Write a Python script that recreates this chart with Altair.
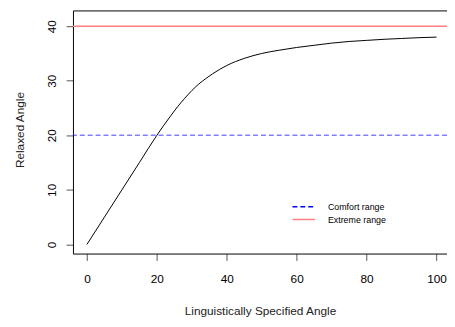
import altair as alt
import pandas as pd

# Curve values
x_vals = [0, 5, 10, 15, 20, 22, 24, 26, 28, 30, 32, 34, 36, 38, 40, 45, 50, 55,
          60, 65, 70, 75, 80, 85, 90, 95, 100]
y_vals = [0, 5, 10, 15, 20, 21.85, 23.6, 25.3, 26.8, 28.2, 29.4, 30.4, 31.3, 32.1,
          32.8, 34.1, 35.0, 35.6, 36.1, 36.5, 36.9, 37.2, 37.4, 37.6, 37.75, 37.9, 38.0]

ref_names = ["Comfort range", "Extreme range"]
ref_values = [20, 40]
ref_colors = ["#0000FF", "#FF8080"]
ref_dashes = [[5, 3], [1, 0]]

x_ticks = [0, 20, 40, 60, 80, 100]
y_ticks = [0, 10, 20, 30, 40]

curve = pd.DataFrame({"x": x_vals, "y": y_vals})
refs = pd.DataFrame({"name": ref_names, "value": ref_values})

FONT = "Liberation Sans"

xscale = alt.Scale(domain=[-4, 103.0], nice=False, zero=False)
yscale = alt.Scale(domain=[-1.68, 42.89], nice=False, zero=False)

line = alt.Chart(curve).mark_line(color="black", strokeWidth=1, clip=True,
                                  interpolate="monotone").encode(
    x=alt.X("x:Q", scale=xscale,
            axis=alt.Axis(title="Linguistically Specified Angle", values=x_ticks,
                          grid=False, tickSize=7, labelPadding=13, labelFontSize=12,
                          titleFontSize=12, titleFontWeight="normal",
                          titleY=58, titleBaseline="middle",
                          domainColor="black", tickColor="#555555",
                          labelColor="black", titleColor="#222222",
                          labelFont=FONT, titleFont=FONT)),
    y=alt.Y("y:Q", scale=yscale,
            axis=alt.Axis(title="Relaxed Angle", values=y_ticks, grid=False,
                          tickSize=7, labelAngle=270, labelAlign="center",
                          labelBaseline="middle", labelPadding=15,
                          labelFontSize=12, titleFontSize=12,
                          titleFontWeight="normal", titleAngle=270,
                          titleX=-54, titleY=121, titleBaseline="middle",
                          titleAlign="center",
                          domainColor="black", tickColor="#555555",
                          labelColor="black", titleColor="#222222",
                          labelFont=FONT, titleFont=FONT)),
)

top_frame = alt.Chart(curve).mark_point(opacity=0).encode(
    x=alt.X("x:Q", scale=xscale,
            axis=alt.Axis(orient="top", labels=False, ticks=False, title=None,
                          grid=False, domainColor="black")),
)

rules = alt.Chart(refs).mark_rule(strokeWidth=1.5).encode(
    y=alt.Y("value:Q", scale=yscale),
    color=alt.Color("name:N",
                    scale=alt.Scale(domain=ref_names, range=ref_colors),
                    legend=alt.Legend(title=None, orient="none", legendX=228,
                                      legendY=193, symbolType="M-2,0H2",
                                      symbolSize=132, symbolStrokeWidth=1.5,
                                      labelFontSize=9, labelFont=FONT,
                                      labelColor="black", labelOffset=18,
                                      rowPadding=1, padding=0)),
    strokeDash=alt.StrokeDash("name:N",
                              scale=alt.Scale(domain=ref_names, range=ref_dashes),
                              legend=None),
    opacity=alt.condition(alt.datum.name == "Comfort range",
                          alt.value(0.5), alt.value(1.0)),
)

chart = alt.layer(rules, line, top_frame).resolve_axis(x="independent").properties(
    width=380, height=247,
    autosize=alt.AutoSizeParams(type="none"),
    padding={"left": 66, "top": 0, "right": 0, "bottom": 64},
    background="white",
).configure_view(stroke=None)

chart.save("out.html", embed_options={"renderer": "svg", "actions": False})
